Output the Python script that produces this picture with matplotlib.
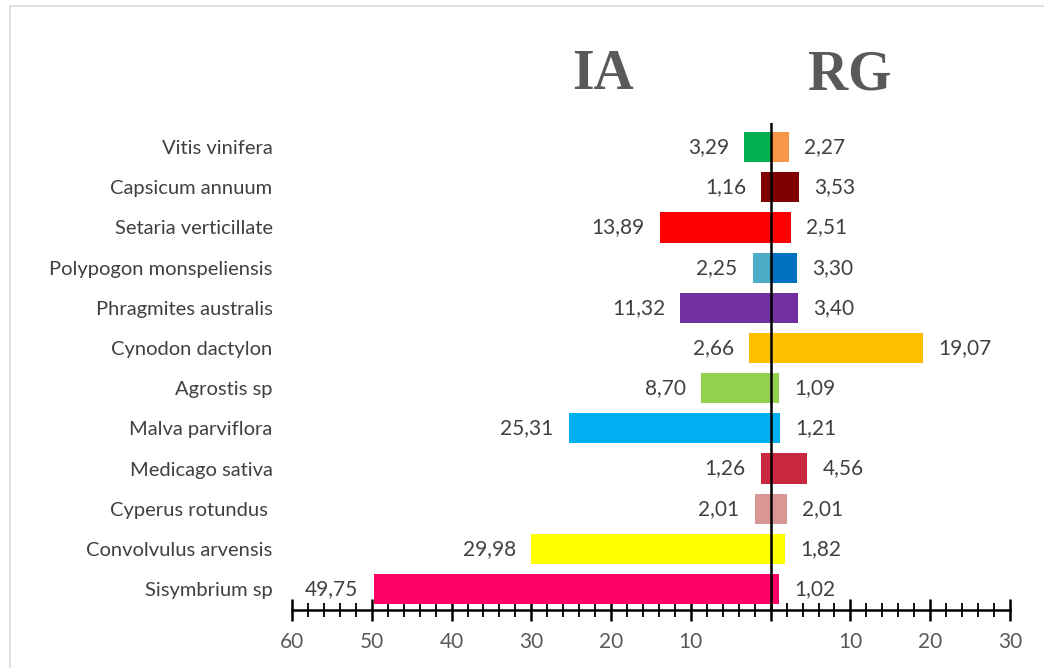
import matplotlib
matplotlib.use("Agg")
import matplotlib.pyplot as plt
from matplotlib.patches import Rectangle
from matplotlib.ticker import MultipleLocator, FixedLocator

species = ["Sisymbrium sp", "Convolvulus arvensis", "Cyperus rotundus ", "Medicago sativa",
           "Malva parviflora", "Agrostis sp", "Cynodon dactylon", "Phragmites australis",
           "Polypogon monspeliensis", "Setaria verticillate", "Capsicum annuum", "Vitis vinifera"]
ia_values = [49.75, 29.98, 2.01, 1.26, 25.31, 8.70, 2.66, 11.32, 2.25, 13.89, 1.16, 3.29]
rg_values = [1.02, 1.82, 2.01, 4.56, 1.21, 1.09, 19.07, 3.40, 3.30, 2.51, 3.53, 2.27]
ia_colors = ["#FF0066", "#FFFF00", "#D99694", "#C9283E", "#00B0F0", "#92D050", "#FFC000",
             "#7030A0", "#4BACC6", "#FF0000", "#7F0000", "#00B050"]
rg_colors = ["#FF0066", "#FFFF00", "#D99694", "#C9283E", "#00B0F0", "#92D050", "#FFC000",
             "#7030A0", "#0070C0", "#FF0000", "#7F0000", "#F79646"]
tick_values = [-60, -50, -40, -30, -20, -10, 0, 10, 20, 30]
tick_labels = ["60", "50", "40", "30", "20", "10", "", "10", "20", "30"]

W, H = 1044, 668
fig = plt.figure(figsize=(W / 100, H / 100), dpi=100)
fig.patch.set_facecolor("white")

# outer chart border
fig.add_artist(Rectangle((10 / W, -0.05), 1.2, 1 - 6 / H + 0.05, transform=fig.transFigure,
                         fill=False, edgecolor="#D9D9D9", linewidth=1.2))

ax = fig.add_axes([292 / W, 1 - 610 / H, (1010 - 292) / W, (610 - 123) / H])
y = list(range(len(species)))
h = 0.75
ax.barh(y, [-v for v in ia_values], height=h, color=ia_colors, zorder=2)
ax.barh(y, rg_values, height=h, color=rg_colors, zorder=2)
ax.axvline(0, color="black", linewidth=1.8, zorder=3)

ax.set_xlim(-60, 30)
ax.set_ylim(-0.52, 11.6)

fam = ["Lato", "DejaVu Sans"]
lab_font = dict(family=fam, fontsize=15, color="#404040")
for i in y:
    ax.annotate(f"{ia_values[i]:.2f}".replace(".", ","), (-ia_values[i], i),
                xytext=(-11, 0), textcoords="offset points", ha="right", va="center", **lab_font)
    ax.annotate(f"{rg_values[i]:.2f}".replace(".", ","), (rg_values[i], i),
                xytext=(11, 0), textcoords="offset points", ha="left", va="center", **lab_font)

for s in ["top", "right", "left"]:
    ax.spines[s].set_visible(False)
ax.spines["bottom"].set_linewidth(1.8)
ax.spines["bottom"].set_color("black")

ax.xaxis.set_major_locator(FixedLocator(tick_values))
ax.set_xticklabels(tick_labels)
ax.xaxis.set_minor_locator(MultipleLocator(2))
ax.tick_params(axis="x", which="major", direction="inout", length=16, width=1.8,
               colors="black", labelcolor="#595959", labelsize=15, pad=8)
ax.tick_params(axis="x", which="minor", direction="inout", length=10, width=1.3, colors="black")
for t in ax.get_xticklabels():
    t.set_family(fam)

ax.set_yticks(y)
ax.set_yticklabels(species)
ax.tick_params(axis="y", length=0, pad=14, labelsize=14.5, labelcolor="#404040")
for t in ax.get_yticklabels():
    t.set_family(fam)

title_font = dict(family=["Liberation Serif", "DejaVu Serif"], fontsize=40, fontweight="bold",
                  color="#595959", ha="center", va="center")
fig.text(603 / W, 1 - 75 / H, "IA", **title_font)
fig.text(850 / W, 1 - 75 / H, "RG", **title_font)

fig.savefig("out.png", dpi=100)
